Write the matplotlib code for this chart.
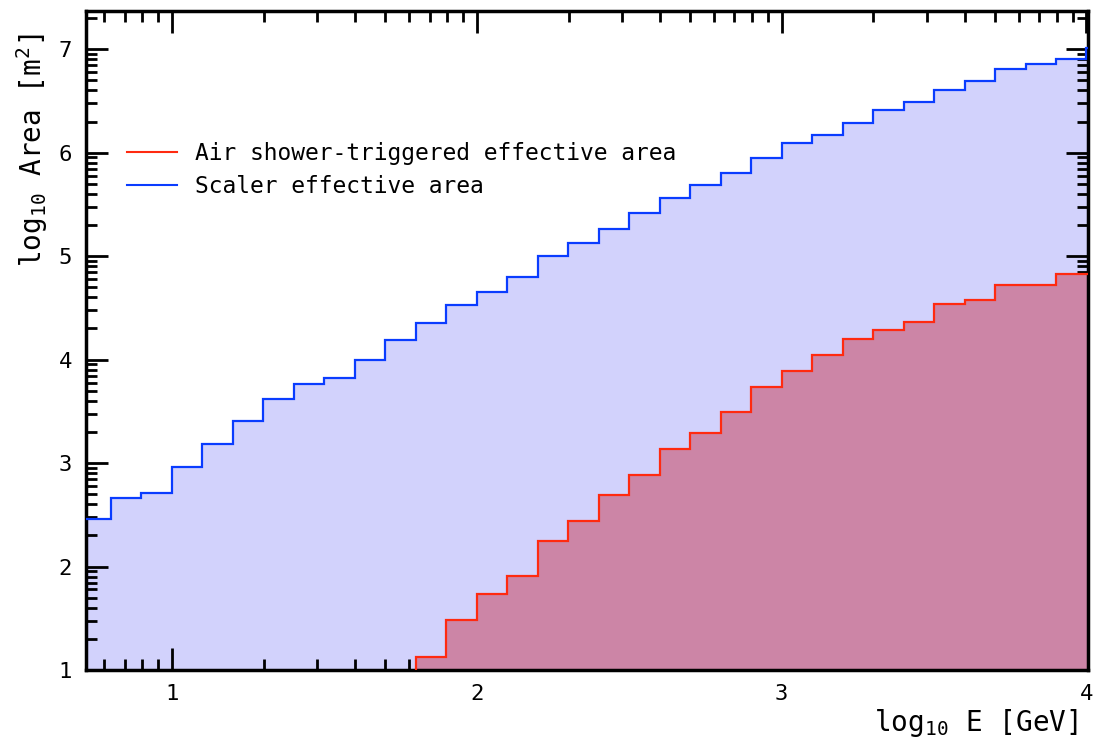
import matplotlib
matplotlib.use('Agg')
import matplotlib.pyplot as plt
import numpy as np
from matplotlib.ticker import FixedLocator

plt.rcParams['font.family'] = ['DejaVu Sans Mono']
plt.rcParams['mathtext.default'] = 'regular'

# lower edge of each 0.1-wide log10(E) bin, plus the final upper edge
blue_edges = [0.7, 0.8, 0.9, 1.0, 1.1, 1.2, 1.3, 1.4, 1.5, 1.6, 1.7, 1.8, 1.9,
              2.0, 2.1, 2.2, 2.3, 2.4, 2.5, 2.6, 2.7, 2.8, 2.9, 3.0, 3.1, 3.2,
              3.3, 3.4, 3.5, 3.6, 3.7, 3.8, 3.9, 4.0, 4.1]
scaler_area = [2.456, 2.665, 2.713, 2.964, 3.18, 3.41, 3.62, 3.766, 3.82, 4.0,
               4.19, 4.357, 4.53, 4.655, 4.80, 5.0, 5.13, 5.26, 5.42, 5.56,
               5.69, 5.80, 5.95, 6.09, 6.17, 6.29, 6.41, 6.49, 6.61, 6.69,
               6.81, 6.86, 6.91, 7.01]

red_edges = [1.8, 1.9, 2.0, 2.1, 2.2, 2.3, 2.4, 2.5, 2.6, 2.7, 2.8, 2.9, 3.0,
             3.1, 3.2, 3.3, 3.4, 3.5, 3.6, 3.7, 3.8, 3.9, 4.0, 4.1]
shower_area = [1.13, 1.483, 1.73, 1.91, 2.245, 2.44, 2.69, 2.88, 3.135, 3.29,
               3.49, 3.74, 3.89, 4.04, 4.20, 4.29, 4.36, 4.54, 4.58, 4.72,
               4.72, 4.83, 4.83]

fig = plt.figure(figsize=(10.97, 7.47), dpi=100)
ax = fig.add_axes([0.0784, 0.1031, 0.9134, 0.8822])

# fills
ax.stairs(scaler_area, blue_edges, baseline=1, fill=True, color='#d2d2fc', zorder=1)
ax.stairs(shower_area, red_edges, baseline=1, fill=True, color='#cc85a6', zorder=2)
# outlines
ax.stairs(shower_area, red_edges, baseline=1, color='#ff2a10', linewidth=1.6,
          label='Air shower-triggered effective area', zorder=3)
ax.stairs(scaler_area, blue_edges, baseline=1, color='#0a3cff', linewidth=1.6,
          label='Scaler effective area', zorder=3)

ax.set_xlim(0.718, 4.005)
ax.set_ylim(1, 7.37)

ax.set_xticks([1, 2, 3, 4])
ax.set_yticks([1, 2, 3, 4, 5, 6, 7])
logk = np.log10(np.arange(2, 10))
ax.xaxis.set_minor_locator(FixedLocator(np.concatenate([n + logk for n in range(0, 5)])))
ax.yaxis.set_minor_locator(FixedLocator(np.concatenate([n + logk for n in range(0, 8)])))

ax.tick_params(which='both', direction='in', top=True, right=True, width=2,
               labelsize=16, pad=10)
ax.tick_params(which='major', length=16)
ax.tick_params(which='minor', length=8)
for s in ax.spines.values():
    s.set_linewidth(2.5)

ax.set_xlabel(r'log$_{10}$ E [GeV]', fontsize=20, loc='right')
ax.set_ylabel(r'log$_{10}$ Area [m$^2$]', fontsize=20, loc='top')
ax.xaxis.set_label_coords(0.990, -0.056)
ax.yaxis.set_label_coords(-0.036, 0.966)

leg = ax.legend(loc='upper left', bbox_to_anchor=(0.02, 0.833), frameon=False,
                fontsize=16.5, handlelength=2.2, handletextpad=0.8, labelspacing=0.45)
for h in leg.legend_handles:
    h.set_linewidth(1.5)

fig.savefig('out.png', dpi=100)
